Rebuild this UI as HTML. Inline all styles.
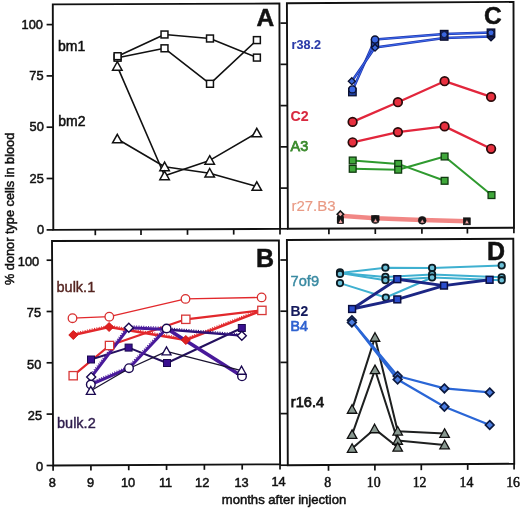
<!DOCTYPE html>
<html><head><meta charset="utf-8"><style>
html,body{margin:0;padding:0;background:#fff;}
body{width:520px;height:509px;overflow:hidden;}
svg{display:block;filter:blur(0.3px);}
</style></head><body>
<svg width="520" height="509" viewBox="0 0 520 509">
<rect width="520" height="509" fill="#fff"/>
<polygon points="52.8,4.4 279.4,3.5 280.1,228.9 53.3,229.9" fill="none" stroke="#111" stroke-width="1.9" stroke-linejoin="miter"/>
<polygon points="52.0,241.0 278.9,240.4 280.1,464.2 53.2,465.5" fill="none" stroke="#111" stroke-width="1.9" stroke-linejoin="miter"/>
<polygon points="286.9,3.2 513.5,1.9 514.0,227.7 287.9,228.8" fill="none" stroke="#111" stroke-width="1.9" stroke-linejoin="miter"/>
<polygon points="286.9,240.0 513.3,238.7 514.2,463.8 287.8,465.2" fill="none" stroke="#111" stroke-width="1.9" stroke-linejoin="miter"/>
<line x1="46.6" y1="24.6" x2="52.84478935698448" y2="24.6" stroke="#111" stroke-width="1.7"/>
<line x1="46.6" y1="75.9" x2="52.95853658536585" y2="75.9" stroke="#111" stroke-width="1.7"/>
<line x1="46.6" y1="127.19999999999999" x2="53.07228381374723" y2="127.19999999999999" stroke="#111" stroke-width="1.7"/>
<line x1="46.6" y1="178.49999999999997" x2="53.1860310421286" y2="178.49999999999997" stroke="#111" stroke-width="1.7"/>
<line x1="46.6" y1="229.9" x2="53.3" y2="229.9" stroke="#111" stroke-width="1.7"/>
<text x="42.949999999999996" y="28.6" font-family='"Liberation Sans", sans-serif' font-size="12.8" fill="#111" stroke="#111" stroke-width="0.5" text-anchor="end" font-weight="normal" >100</text>
<text x="43.55" y="80.1" font-family='"Liberation Sans", sans-serif' font-size="12.8" fill="#111" stroke="#111" stroke-width="0.5" text-anchor="end" font-weight="normal" >75</text>
<text x="43.75" y="130.6" font-family='"Liberation Sans", sans-serif' font-size="12.8" fill="#111" stroke="#111" stroke-width="0.5" text-anchor="end" font-weight="normal" >50</text>
<text x="43.75" y="183.1" font-family='"Liberation Sans", sans-serif' font-size="12.8" fill="#111" stroke="#111" stroke-width="0.5" text-anchor="end" font-weight="normal" >25</text>
<text x="44.15" y="233.7" font-family='"Liberation Sans", sans-serif' font-size="12.8" fill="#111" stroke="#111" stroke-width="0.5" text-anchor="end" font-weight="normal" >0</text>
<line x1="95.3" y1="229.71481481481482" x2="95.3" y2="235.21481481481482" stroke="#111" stroke-width="1.7"/>
<line x1="141.0" y1="229.51331569664904" x2="141.0" y2="235.01331569664904" stroke="#111" stroke-width="1.7"/>
<line x1="187.5" y1="229.3082892416226" x2="187.5" y2="234.8082892416226" stroke="#111" stroke-width="1.7"/>
<line x1="233.7" y1="229.10458553791887" x2="233.7" y2="234.60458553791887" stroke="#111" stroke-width="1.7"/>
<line x1="280.0" y1="228.9004409171076" x2="280.0" y2="234.4004409171076" stroke="#111" stroke-width="1.7"/>
<line x1="46.6" y1="260.2" x2="52.1026280623608" y2="260.2" stroke="#111" stroke-width="1.7"/>
<line x1="46.6" y1="311.5" x2="52.37683741648107" y2="311.5" stroke="#111" stroke-width="1.7"/>
<line x1="46.6" y1="362.79999999999995" x2="52.65104677060134" y2="362.79999999999995" stroke="#111" stroke-width="1.7"/>
<line x1="46.6" y1="414.09999999999997" x2="52.92525612472161" y2="414.09999999999997" stroke="#111" stroke-width="1.7"/>
<line x1="46.6" y1="465.5" x2="53.2" y2="465.5" stroke="#111" stroke-width="1.7"/>
<text x="39.15" y="266.0" font-family='"Liberation Sans", sans-serif' font-size="12.8" fill="#111" stroke="#111" stroke-width="0.5" text-anchor="end" font-weight="normal" >100</text>
<text x="41.05" y="316.5" font-family='"Liberation Sans", sans-serif' font-size="12.8" fill="#111" stroke="#111" stroke-width="0.5" text-anchor="end" font-weight="normal" >75</text>
<text x="41.349999999999994" y="368.5" font-family='"Liberation Sans", sans-serif' font-size="12.8" fill="#111" stroke="#111" stroke-width="0.5" text-anchor="end" font-weight="normal" >50</text>
<text x="42.05" y="419.5" font-family='"Liberation Sans", sans-serif' font-size="12.8" fill="#111" stroke="#111" stroke-width="0.5" text-anchor="end" font-weight="normal" >25</text>
<text x="43.15" y="471.3" font-family='"Liberation Sans", sans-serif' font-size="12.8" fill="#111" stroke="#111" stroke-width="0.5" text-anchor="end" font-weight="normal" >0</text>
<line x1="53.1" y1="465.50057293962095" x2="53.1" y2="470.70057293962094" stroke="#111" stroke-width="1.7"/>
<line x1="90.92" y1="465.28388717496694" x2="90.92" y2="470.4838871749669" stroke="#111" stroke-width="1.7"/>
<line x1="128.74" y1="465.0672014103129" x2="128.74" y2="470.2672014103129" stroke="#111" stroke-width="1.7"/>
<line x1="166.56" y1="464.8505156456589" x2="166.56" y2="470.0505156456589" stroke="#111" stroke-width="1.7"/>
<line x1="204.38" y1="464.63382988100483" x2="204.38" y2="469.8338298810048" stroke="#111" stroke-width="1.7"/>
<line x1="242.2" y1="464.4171441163508" x2="242.2" y2="469.6171441163508" stroke="#111" stroke-width="1.7"/>
<line x1="280.02000000000004" y1="464.2004583516968" x2="280.02000000000004" y2="469.4004583516968" stroke="#111" stroke-width="1.7"/>
<text x="52.35" y="487.39845132743363" font-family='"Liberation Sans", sans-serif' font-size="12.8" fill="#111" stroke="#111" stroke-width="0.5" text-anchor="middle" font-weight="normal" >8</text>
<text x="90.6" y="487.229203539823" font-family='"Liberation Sans", sans-serif' font-size="12.8" fill="#111" stroke="#111" stroke-width="0.5" text-anchor="middle" font-weight="normal" >9</text>
<text x="128.0" y="487.06371681415925" font-family='"Liberation Sans", sans-serif' font-size="12.8" fill="#111" stroke="#111" stroke-width="0.5" text-anchor="middle" font-weight="normal" >10</text>
<text x="165.6" y="486.89734513274334" font-family='"Liberation Sans", sans-serif' font-size="12.8" fill="#111" stroke="#111" stroke-width="0.5" text-anchor="middle" font-weight="normal" >11</text>
<text x="202.2" y="486.7353982300885" font-family='"Liberation Sans", sans-serif' font-size="12.8" fill="#111" stroke="#111" stroke-width="0.5" text-anchor="middle" font-weight="normal" >12</text>
<text x="241.5" y="486.5615044247787" font-family='"Liberation Sans", sans-serif' font-size="12.8" fill="#111" stroke="#111" stroke-width="0.5" text-anchor="middle" font-weight="normal" >13</text>
<text x="278.6" y="486.39734513274334" font-family='"Liberation Sans", sans-serif' font-size="12.8" fill="#111" stroke="#111" stroke-width="0.5" text-anchor="middle" font-weight="normal" >14</text>
<line x1="280.4" y1="23.1" x2="286.9882092198581" y2="23.1" stroke="#111" stroke-width="1.7"/>
<line x1="280.4" y1="64.35" x2="287.171054964539" y2="64.35" stroke="#111" stroke-width="1.7"/>
<line x1="280.4" y1="105.6" x2="287.35390070921983" y2="105.6" stroke="#111" stroke-width="1.7"/>
<line x1="280.4" y1="146.85" x2="287.53674645390066" y2="146.85" stroke="#111" stroke-width="1.7"/>
<line x1="280.4" y1="188.1" x2="287.71959219858155" y2="188.1" stroke="#111" stroke-width="1.7"/>
<line x1="280.4" y1="228.8" x2="287.9" y2="228.8" stroke="#111" stroke-width="1.7"/>
<line x1="328.9" y1="228.60053073861124" x2="328.9" y2="234.20053073861123" stroke="#111" stroke-width="1.7"/>
<line x1="375.3" y1="228.3747899159664" x2="375.3" y2="233.9747899159664" stroke="#111" stroke-width="1.7"/>
<line x1="421.9" y1="228.14807607253428" x2="421.9" y2="233.74807607253427" stroke="#111" stroke-width="1.7"/>
<line x1="467.4" y1="227.9267138434321" x2="467.4" y2="233.5267138434321" stroke="#111" stroke-width="1.7"/>
<line x1="513.9" y1="227.70048651039363" x2="513.9" y2="233.30048651039363" stroke="#111" stroke-width="1.7"/>
<line x1="280.4" y1="260.0" x2="286.9799289520426" y2="260.0" stroke="#111" stroke-width="1.7"/>
<line x1="280.4" y1="311.2" x2="287.18454706927173" y2="311.2" stroke="#111" stroke-width="1.7"/>
<line x1="280.4" y1="362.4" x2="287.38916518650086" y2="362.4" stroke="#111" stroke-width="1.7"/>
<line x1="280.4" y1="413.6" x2="287.59378330373005" y2="413.6" stroke="#111" stroke-width="1.7"/>
<line x1="280.4" y1="465.2" x2="287.8" y2="465.2" stroke="#111" stroke-width="1.7"/>
<line x1="328.5" y1="464.9483215547703" x2="328.5" y2="470.7483215547703" stroke="#111" stroke-width="1.7"/>
<line x1="374.9" y1="464.6613957597173" x2="374.9" y2="470.46139575971733" stroke="#111" stroke-width="1.7"/>
<line x1="421.3" y1="464.3744699646643" x2="421.3" y2="470.1744699646643" stroke="#111" stroke-width="1.7"/>
<line x1="467.7" y1="464.0875441696113" x2="467.7" y2="469.8875441696113" stroke="#111" stroke-width="1.7"/>
<line x1="514.1" y1="463.8006183745583" x2="514.1" y2="469.60061837455834" stroke="#111" stroke-width="1.7"/>
<text x="327.7" y="486.9" font-family='"Liberation Serif", serif' font-size="13.8" fill="#111" stroke="#111" stroke-width="0.5" text-anchor="middle" font-weight="normal" >8</text>
<text x="373.7" y="486.9" font-family='"Liberation Serif", serif' font-size="13.8" fill="#111" stroke="#111" stroke-width="0.5" text-anchor="middle" font-weight="normal" >10</text>
<text x="419.6" y="486.9" font-family='"Liberation Serif", serif' font-size="13.8" fill="#111" stroke="#111" stroke-width="0.5" text-anchor="middle" font-weight="normal" >12</text>
<text x="466.4" y="486.9" font-family='"Liberation Serif", serif' font-size="13.8" fill="#111" stroke="#111" stroke-width="0.5" text-anchor="middle" font-weight="normal" >14</text>
<text x="513.1" y="486.9" font-family='"Liberation Serif", serif' font-size="13.8" fill="#111" stroke="#111" stroke-width="0.5" text-anchor="middle" font-weight="normal" >16</text>
<text x="256.5" y="25.8" font-family='"Liberation Sans", sans-serif' font-size="24.5" fill="#111" stroke="#111" stroke-width="0.5" text-anchor="start" font-weight="bold" >A</text>
<text x="484.0" y="24.0" font-family='"Liberation Sans", sans-serif' font-size="24.5" fill="#111" stroke="#111" stroke-width="0.5" text-anchor="start" font-weight="bold" >C</text>
<text x="256.0" y="266.5" font-family='"Liberation Sans", sans-serif' font-size="25" fill="#111" stroke="#111" stroke-width="0.5" text-anchor="start" font-weight="bold" >B</text>
<text x="487.0" y="260.0" font-family='"Liberation Sans", sans-serif' font-size="25" fill="#111" stroke="#111" stroke-width="0.5" text-anchor="start" font-weight="bold" >D</text>
<text x="284" y="503.5" font-family='"Liberation Sans", sans-serif' font-size="13.1" fill="#111" stroke="#111" stroke-width="0.5" text-anchor="middle" font-weight="normal" >months after injection</text>
<text x="0" y="0" font-family='"Liberation Sans", sans-serif' font-size="12.75" fill="#111" stroke="#111" stroke-width="0.5" text-anchor="middle" font-weight="normal" transform="translate(13.5,208.9) rotate(-90)">% donor type cells in blood</text>
<polyline points="117.6,56.2 164.5,34.5 210,38.5 256.9,57.6" fill="none" stroke="#111" stroke-width="1.6" stroke-linejoin="round" />
<polyline points="117.6,57.7 164.5,48.3 210,83.8 256.9,40.1" fill="none" stroke="#111" stroke-width="1.6" stroke-linejoin="round" />
<polyline points="117.3,66.4 164.6,175.8 209.7,160.4 256.8,133" fill="none" stroke="#111" stroke-width="1.6" stroke-linejoin="round" />
<polyline points="117.3,139 164.6,166.8 209.7,173.2 256.8,186.5" fill="none" stroke="#111" stroke-width="1.6" stroke-linejoin="round" />
<rect x="114.15" y="54.25" width="6.9" height="6.9" fill="#fff" stroke="#111" stroke-width="1.5"/>
<rect x="114.15" y="52.75" width="6.9" height="6.9" fill="#fff" stroke="#111" stroke-width="1.5"/>
<rect x="161.05" y="31.05" width="6.9" height="6.9" fill="#fff" stroke="#111" stroke-width="1.5"/>
<rect x="161.05" y="44.85" width="6.9" height="6.9" fill="#fff" stroke="#111" stroke-width="1.5"/>
<rect x="206.55" y="35.05" width="6.9" height="6.9" fill="#fff" stroke="#111" stroke-width="1.5"/>
<rect x="206.55" y="80.35" width="6.9" height="6.9" fill="#fff" stroke="#111" stroke-width="1.5"/>
<rect x="253.45" y="36.65" width="6.9" height="6.9" fill="#fff" stroke="#111" stroke-width="1.5"/>
<rect x="253.45" y="54.15" width="6.9" height="6.9" fill="#fff" stroke="#111" stroke-width="1.5"/>
<polygon points="117.30,61.70 122.05,70.25 112.55,70.25" fill="#fff" stroke="#111" stroke-width="1.5" stroke-linejoin="miter"/>
<polygon points="117.30,134.30 122.05,142.85 112.55,142.85" fill="#fff" stroke="#111" stroke-width="1.5" stroke-linejoin="miter"/>
<polygon points="164.60,162.10 169.35,170.65 159.85,170.65" fill="#fff" stroke="#111" stroke-width="1.5" stroke-linejoin="miter"/>
<polygon points="164.60,171.10 169.35,179.65 159.85,179.65" fill="#fff" stroke="#111" stroke-width="1.5" stroke-linejoin="miter"/>
<polygon points="209.70,155.70 214.45,164.25 204.95,164.25" fill="#fff" stroke="#111" stroke-width="1.5" stroke-linejoin="miter"/>
<polygon points="209.70,168.50 214.45,177.05 204.95,177.05" fill="#fff" stroke="#111" stroke-width="1.5" stroke-linejoin="miter"/>
<polygon points="256.80,128.30 261.55,136.85 252.05,136.85" fill="#fff" stroke="#111" stroke-width="1.5" stroke-linejoin="miter"/>
<polygon points="256.80,181.80 261.55,190.35 252.05,190.35" fill="#fff" stroke="#111" stroke-width="1.5" stroke-linejoin="miter"/>
<text x="58.0" y="50.8" font-family='"Liberation Sans", sans-serif' font-size="14" fill="#111" stroke="#111" stroke-width="0.5" text-anchor="start" font-weight="normal" >bm1</text>
<text x="58.3" y="126.3" font-family='"Liberation Sans", sans-serif' font-size="14" fill="#111" stroke="#111" stroke-width="0.5" text-anchor="start" font-weight="normal" >bm2</text>
<polyline points="340.4,215.8 375.3,218.3 422.4,220.0 467,221.3" fill="none" stroke="#f07a78" stroke-width="4.6" stroke-linejoin="round" stroke-opacity="0.9"/>
<rect x="336.9" y="215.5" width="7" height="8.6" rx="1.5" fill="#151515"/>
<polygon points="340.4,211.0 343.59999999999997,214.2 340.4,217.39999999999998 337.2,214.2" fill="#f4b0b0" stroke="#151515" stroke-width="1.6"/>
<polygon points="340.60,218.73 343.20,223.41 338.00,223.41" fill="#f4a8a8" stroke="#151515" stroke-width="0.8" stroke-linejoin="miter"/>
<circle cx="375.3" cy="219.6" r="4.0" fill="#151515" stroke="#151515" stroke-width="0.6"/>
<rect x="371.2" y="215.2" width="8.2" height="3" fill="#151515"/>
<polygon points="375.50,218.32 377.80,222.46 373.20,222.46" fill="#f4a8a8" stroke="#151515" stroke-width="0.6" stroke-linejoin="miter"/>
<circle cx="422.2" cy="220.3" r="3.9" fill="#151515" stroke="#151515" stroke-width="0.6"/>
<polygon points="422.30,218.92 424.60,223.06 420.00,223.06" fill="#f4a8a8" stroke="#151515" stroke-width="0.6" stroke-linejoin="miter"/>
<rect x="463.30" y="217.80" width="7.0" height="7.0" fill="#151515" stroke="#151515" stroke-width="0.6"/>
<polygon points="466.90,219.52 469.20,223.66 464.60,223.66" fill="#f4a8a8" stroke="#151515" stroke-width="0.6" stroke-linejoin="miter"/>
<text x="291.4" y="211.0" font-family='"Liberation Sans", sans-serif' font-size="15" fill="#e99a84" stroke="#e99a84" stroke-width="0.15" text-anchor="start" font-weight="normal" >r27.B3</text>
<polyline points="352.7,160.5 398.2,163.9 444.6,180.8" fill="none" stroke="#2f9a2f" stroke-width="2.0" stroke-linejoin="round" />
<polyline points="352.7,168.8 398.2,169.7 444.6,156.5 491.5,195.1" fill="none" stroke="#2f9a2f" stroke-width="2.0" stroke-linejoin="round" />
<rect x="349.30" y="157.10" width="6.8" height="6.8" fill="#3fa83a" stroke="#103a10" stroke-width="1.3"/>
<rect x="349.30" y="165.40" width="6.8" height="6.8" fill="#3fa83a" stroke="#103a10" stroke-width="1.3"/>
<rect x="394.80" y="160.50" width="6.8" height="6.8" fill="#3fa83a" stroke="#103a10" stroke-width="1.3"/>
<rect x="394.80" y="166.30" width="6.8" height="6.8" fill="#3fa83a" stroke="#103a10" stroke-width="1.3"/>
<rect x="441.20" y="153.10" width="6.8" height="6.8" fill="#3fa83a" stroke="#103a10" stroke-width="1.3"/>
<rect x="441.20" y="177.40" width="6.8" height="6.8" fill="#3fa83a" stroke="#103a10" stroke-width="1.3"/>
<rect x="488.10" y="191.70" width="6.8" height="6.8" fill="#3fa83a" stroke="#103a10" stroke-width="1.3"/>
<text x="290.6" y="150.6" font-family='"Liberation Sans", sans-serif' font-size="14.4" fill="#3a8a2c" stroke="#3a8a2c" stroke-width="0.75" text-anchor="start" font-weight="normal" >A3</text>
<polyline points="352.6,121.9 397.9,102.2 444.6,81.2 491.1,96.9" fill="none" stroke="#e2263c" stroke-width="2.3" stroke-linejoin="round" />
<polyline points="352.6,142.3 397.9,132.1 444.6,126.4 491.1,148.8" fill="none" stroke="#e2263c" stroke-width="2.3" stroke-linejoin="round" />
<circle cx="352.6" cy="121.9" r="4.3" fill="#e8303f" stroke="#2a0a0a" stroke-width="1.7"/>
<circle cx="397.9" cy="102.2" r="4.3" fill="#e8303f" stroke="#2a0a0a" stroke-width="1.7"/>
<circle cx="444.6" cy="81.2" r="4.3" fill="#e8303f" stroke="#2a0a0a" stroke-width="1.7"/>
<circle cx="491.1" cy="96.9" r="4.3" fill="#e8303f" stroke="#2a0a0a" stroke-width="1.7"/>
<circle cx="352.6" cy="142.3" r="4.3" fill="#e8303f" stroke="#2a0a0a" stroke-width="1.7"/>
<circle cx="397.9" cy="132.1" r="4.3" fill="#e8303f" stroke="#2a0a0a" stroke-width="1.7"/>
<circle cx="444.6" cy="126.4" r="4.3" fill="#e8303f" stroke="#2a0a0a" stroke-width="1.7"/>
<circle cx="491.1" cy="148.8" r="4.3" fill="#e8303f" stroke="#2a0a0a" stroke-width="1.7"/>
<text x="290.6" y="120.6" font-family='"Liberation Sans", sans-serif' font-size="14.2" fill="#d82a40" stroke="#d82a40" stroke-width="0.1" text-anchor="start" font-weight="bold" >C2</text>
<polyline points="352.4,90.5 375,39.6 444.2,34.0 491,32.4" fill="none" stroke="#2238b0" stroke-width="2.5" stroke-linejoin="round" />
<polyline points="352.4,90.5 375,39.6 444.2,34.0 491,32.4" fill="none" stroke="#3c6cf0" stroke-width="1.0" stroke-linejoin="round" />
<polyline points="351.8,81.2 375,47.5 444.2,38.0 491,36.6" fill="none" stroke="#2238b0" stroke-width="2.5" stroke-linejoin="round" />
<polyline points="351.8,81.2 375,47.5 444.2,38.0 491,36.6" fill="none" stroke="#3c6cf0" stroke-width="1.0" stroke-linejoin="round" />
<rect x="348.65" y="88.25" width="7.5" height="7.5" fill="#2040a0" stroke="#0a1030" stroke-width="1.3"/>
<polygon points="351.8,77.7 355.3,81.2 351.8,84.7 348.3,81.2" fill="#3a66d8" stroke="#0a1030" stroke-width="1.3"/>
<circle cx="352.4" cy="89.4" r="3.5" fill="#3a66e0" stroke="#0a1030" stroke-width="1.2"/>
<rect x="371.40" y="39.40" width="7.2" height="7.2" fill="#2040a0" stroke="#0a1030" stroke-width="1.3"/>
<polygon points="375,44.2 378.5,47.7 375,51.2 371.5,47.7" fill="#3a66d8" stroke="#0a1030" stroke-width="1.3"/>
<circle cx="375" cy="39.6" r="3.6" fill="#3a66e0" stroke="#0a1030" stroke-width="1.3"/>
<rect x="440.4" y="30.4" width="7.6" height="9.8" fill="#16205a" stroke="#0a1030" stroke-width="1.2"/>
<circle cx="444.2" cy="34.6" r="2.9" fill="#3a66e0" stroke="#0a1030" stroke-width="0.8"/>
<polygon points="491,33.9 494.5,37.4 491,40.9 487.5,37.4" fill="#16205a" stroke="#0a1030" stroke-width="1.3"/>
<rect x="487.25" y="29.05" width="7.5" height="7.5" fill="#16205a" stroke="#0a1030" stroke-width="1.3"/>
<circle cx="491" cy="32.8" r="2.9" fill="#3a66e0" stroke="#0a1030" stroke-width="0.8"/>
<text x="291.6" y="49.0" font-family='"Liberation Sans", sans-serif' font-size="12.6" fill="#2a3aa8" stroke="#2a3aa8" stroke-width="0.1" text-anchor="start" font-weight="bold" >r38.2</text>
<polyline points="72.5,318.2 109.3,316.7 185.5,298.9 261.6,297.4" fill="none" stroke="#e2282c" stroke-width="1.3" stroke-linejoin="round" />
<polyline points="73.3,335.0 109.1,327.0 185.8,340.0 258.0,312.0" fill="none" stroke="#e2282c" stroke-width="2.6" stroke-linejoin="round" />
<line x1="72.93" y1="333.34" x2="108.73" y2="325.34" stroke="#e2282c" stroke-width="1.2" stroke-dasharray="1 1.4"/>
<line x1="109.38" y1="325.32" x2="186.08" y2="338.32" stroke="#e2282c" stroke-width="1.2" stroke-dasharray="1 1.4"/>
<line x1="185.19" y1="338.42" x2="257.39" y2="310.42" stroke="#e2282c" stroke-width="1.2" stroke-dasharray="1 1.4"/>
<polyline points="73.2,375.7 109.5,345.5 185.8,319.3 261.9,310.4" fill="none" stroke="#e2282c" stroke-width="2.2" stroke-linejoin="round" />
<polyline points="91.0,359.5 128.6,347.6 167.0,363.0 241.8,328.0" fill="none" stroke="#24105e" stroke-width="2.0" stroke-linejoin="round" />
<polyline points="91.2,377.1 128.8,327.7 166.8,329.5" fill="none" stroke="#48199a" stroke-width="3.0" stroke-linejoin="round" />
<line x1="89.65" y1="375.92" x2="127.25" y2="326.52" stroke="#48199a" stroke-width="1.3" stroke-dasharray="1 1.4"/>
<line x1="128.89" y1="325.75" x2="166.89" y2="327.55" stroke="#48199a" stroke-width="1.3" stroke-dasharray="1 1.4"/>
<polyline points="166.8,329.5 241.8,335.7" fill="none" stroke="#2e1278" stroke-width="2.3" stroke-linejoin="round" />
<line x1="166.93" y1="327.91" x2="241.93" y2="334.11" stroke="#2e1278" stroke-width="1.3" stroke-dasharray="1 1.4"/>
<polyline points="90.8,384.5 129.0,368.2 166.6,328.5" fill="none" stroke="#48199a" stroke-width="3.0" stroke-linejoin="round" />
<line x1="90.03" y1="382.71" x2="128.23" y2="366.41" stroke="#48199a" stroke-width="1.3" stroke-dasharray="1 1.4"/>
<line x1="127.58" y1="366.86" x2="165.18" y2="327.16" stroke="#48199a" stroke-width="1.3" stroke-dasharray="1 1.4"/>
<polyline points="166.6,328.5 242.0,376.3" fill="none" stroke="#48199a" stroke-width="3.7" stroke-linejoin="round" />
<polyline points="90.8,390.8 129.0,368.5 166.5,351.3 241.5,370.6" fill="none" stroke="#1a1430" stroke-width="1.3" stroke-linejoin="round" />
<circle cx="72.5" cy="318.2" r="4.3" fill="#fff" stroke="#d83030" stroke-width="1.3"/>
<circle cx="109.3" cy="316.7" r="4.3" fill="#fff" stroke="#d83030" stroke-width="1.3"/>
<circle cx="185.5" cy="298.9" r="4.3" fill="#fff" stroke="#d83030" stroke-width="1.3"/>
<circle cx="261.6" cy="297.4" r="4.3" fill="#fff" stroke="#d83030" stroke-width="1.3"/>
<polygon points="73.3,330.5 77.8,335.0 73.3,339.5 68.8,335.0" fill="#e02020" stroke="#d01818" stroke-width="1.0"/>
<polygon points="109.1,322.5 113.6,327.0 109.1,331.5 104.6,327.0" fill="#e02020" stroke="#d01818" stroke-width="1.0"/>
<polygon points="185.8,335.5 190.3,340.0 185.8,344.5 181.3,340.0" fill="#e02020" stroke="#d01818" stroke-width="1.0"/>
<rect x="69.05" y="371.55" width="8.3" height="8.3" fill="#fff" stroke="#d83838" stroke-width="1.3"/>
<rect x="105.35" y="341.35" width="8.3" height="8.3" fill="#fff" stroke="#d83838" stroke-width="1.3"/>
<rect x="181.65" y="315.15" width="8.3" height="8.3" fill="#fff" stroke="#d83838" stroke-width="1.3"/>
<rect x="257.75" y="306.25" width="8.3" height="8.3" fill="#fff" stroke="#d83838" stroke-width="1.3"/>
<rect x="87.50" y="356.00" width="7.0" height="7.0" fill="#3a1090" stroke="#1a0850" stroke-width="1.0"/>
<rect x="125.10" y="344.10" width="7.0" height="7.0" fill="#3a1090" stroke="#1a0850" stroke-width="1.0"/>
<rect x="163.50" y="359.50" width="7.0" height="7.0" fill="#3a1090" stroke="#1a0850" stroke-width="1.0"/>
<rect x="238.30" y="324.50" width="7.0" height="7.0" fill="#3a1090" stroke="#1a0850" stroke-width="1.0"/>
<polygon points="91.2,372.6 95.7,377.1 91.2,381.6 86.7,377.1" fill="#fff" stroke="#1a0850" stroke-width="1.4"/>
<polygon points="128.8,323.2 133.3,327.7 128.8,332.2 124.30000000000001,327.7" fill="#fff" stroke="#1a0850" stroke-width="1.4"/>
<polygon points="241.8,331.2 246.3,335.7 241.8,340.2 237.3,335.7" fill="#fff" stroke="#1a0850" stroke-width="1.4"/>
<circle cx="90.8" cy="384.5" r="4.3" fill="#fff" stroke="#1a0850" stroke-width="1.4"/>
<circle cx="129.0" cy="368.2" r="4.3" fill="#fff" stroke="#1a0850" stroke-width="1.4"/>
<circle cx="166.6" cy="328.5" r="4.3" fill="#fff" stroke="#1a0850" stroke-width="1.4"/>
<circle cx="242.0" cy="376.3" r="4.3" fill="#fff" stroke="#1a0850" stroke-width="1.4"/>
<polygon points="90.80,386.35 95.30,394.44 86.30,394.44" fill="#fff" stroke="#1a0850" stroke-width="1.3" stroke-linejoin="miter"/>
<polygon points="166.50,346.85 171.00,354.94 162.00,354.94" fill="#fff" stroke="#1a0850" stroke-width="1.3" stroke-linejoin="miter"/>
<polygon points="241.50,366.15 246.00,374.25 237.00,374.25" fill="#fff" stroke="#1a0850" stroke-width="1.3" stroke-linejoin="miter"/>
<text x="56.5" y="291.9" font-family='"Liberation Sans", sans-serif' font-size="14.5" fill="#552420" stroke="#552420" stroke-width="0.4" text-anchor="start" font-weight="normal" >bulk.1</text>
<text x="57.0" y="427.7" font-family='"Liberation Sans", sans-serif' font-size="14.5" fill="#2e1c4c" stroke="#2e1c4c" stroke-width="0.4" text-anchor="start" font-weight="normal" >bulk.2</text>
<polyline points="352.1,409.4 375.0,337.4 397.7,431.2 444.6,433.5" fill="none" stroke="#1e2020" stroke-width="2.0" stroke-linejoin="round" />
<polyline points="352.1,434.6 375.0,369.8 397.7,440.4 444.6,445.0" fill="none" stroke="#1e2020" stroke-width="2.0" stroke-linejoin="round" />
<polyline points="352.1,448.5 374.6,428.9 397.7,447.3" fill="none" stroke="#1e2020" stroke-width="2.0" stroke-linejoin="round" />
<polygon points="375.00,332.70 379.75,341.25 370.25,341.25" fill="#889890" stroke="#101010" stroke-width="1.3" stroke-linejoin="miter"/>
<polygon points="375.00,365.10 379.75,373.65 370.25,373.65" fill="#889890" stroke="#101010" stroke-width="1.3" stroke-linejoin="miter"/>
<polygon points="352.10,404.70 356.85,413.25 347.35,413.25" fill="#889890" stroke="#101010" stroke-width="1.3" stroke-linejoin="miter"/>
<polygon points="352.10,429.90 356.85,438.45 347.35,438.45" fill="#889890" stroke="#101010" stroke-width="1.3" stroke-linejoin="miter"/>
<polygon points="352.10,443.80 356.85,452.35 347.35,452.35" fill="#889890" stroke="#101010" stroke-width="1.3" stroke-linejoin="miter"/>
<polygon points="374.60,424.20 379.35,432.75 369.85,432.75" fill="#889890" stroke="#101010" stroke-width="1.3" stroke-linejoin="miter"/>
<polygon points="397.70,426.50 402.45,435.05 392.95,435.05" fill="#889890" stroke="#101010" stroke-width="1.3" stroke-linejoin="miter"/>
<polygon points="397.70,435.70 402.45,444.25 392.95,444.25" fill="#889890" stroke="#101010" stroke-width="1.3" stroke-linejoin="miter"/>
<polygon points="397.70,442.60 402.45,451.15 392.95,451.15" fill="#889890" stroke="#101010" stroke-width="1.3" stroke-linejoin="miter"/>
<polygon points="444.60,428.80 449.35,437.35 439.85,437.35" fill="#889890" stroke="#101010" stroke-width="1.3" stroke-linejoin="miter"/>
<polygon points="444.60,440.30 449.35,448.85 439.85,448.85" fill="#889890" stroke="#101010" stroke-width="1.3" stroke-linejoin="miter"/>
<text x="290.8" y="406.9" font-family='"Liberation Sans", sans-serif' font-size="14.6" fill="#151515" stroke="#151515" stroke-width="0.75" text-anchor="start" font-weight="normal" >r16.4</text>
<polyline points="351.9,321.2 397.6,376.0 444.4,388.4 489.7,392.4" fill="none" stroke="#2a66d6" stroke-width="2.3" stroke-linejoin="round" />
<polyline points="351.9,321.2 397.6,379.6 444.4,406.7 489.7,425.0" fill="none" stroke="#2a66d6" stroke-width="2.3" stroke-linejoin="round" />
<polygon points="351.9,315.9 356.2,320.2 351.9,324.5 347.59999999999997,320.2" fill="#4a7ce0" stroke="#0c1a40" stroke-width="1.7"/>
<polygon points="351.9,318.09999999999997 356.2,322.4 351.9,326.7 347.59999999999997,322.4" fill="#4a7ce0" stroke="#0c1a40" stroke-width="1.7"/>
<polygon points="397.6,371.7 401.90000000000003,376.0 397.6,380.3 393.3,376.0" fill="#4a7ce0" stroke="#0c1a40" stroke-width="1.7"/>
<polygon points="397.6,375.3 401.90000000000003,379.6 397.6,383.90000000000003 393.3,379.6" fill="#4a7ce0" stroke="#0c1a40" stroke-width="1.7"/>
<polygon points="444.4,384.09999999999997 448.7,388.4 444.4,392.7 440.09999999999997,388.4" fill="#4a7ce0" stroke="#0c1a40" stroke-width="1.7"/>
<polygon points="444.4,402.4 448.7,406.7 444.4,411.0 440.09999999999997,406.7" fill="#4a7ce0" stroke="#0c1a40" stroke-width="1.7"/>
<polygon points="489.7,388.09999999999997 494.0,392.4 489.7,396.7 485.4,392.4" fill="#4a7ce0" stroke="#0c1a40" stroke-width="1.7"/>
<polygon points="489.7,420.7 494.0,425.0 489.7,429.3 485.4,425.0" fill="#4a7ce0" stroke="#0c1a40" stroke-width="1.7"/>
<polyline points="340,273.1 385.4,267.7 432.1,267.9 501.7,265.4" fill="none" stroke="#3fb0d0" stroke-width="2.0" stroke-linejoin="round" />
<polyline points="340,273.1 385.4,276.9 432.1,274.4 501.7,277.3" fill="none" stroke="#3fb0d0" stroke-width="2.0" stroke-linejoin="round" />
<polyline points="340,273.1 385.4,280.2 432.1,277.5 501.7,280.2" fill="none" stroke="#3fb0d0" stroke-width="2.0" stroke-linejoin="round" />
<polyline points="340,283.1 385.8,297.5 432.1,277.5" fill="none" stroke="#3fb0d0" stroke-width="2.0" stroke-linejoin="round" />
<circle cx="340" cy="272.3" r="3.2" fill="#6cc0d8" stroke="#0c1c24" stroke-width="1.8"/>
<circle cx="340" cy="274.0" r="3.2" fill="#6cc0d8" stroke="#0c1c24" stroke-width="1.8"/>
<circle cx="340" cy="283.1" r="3.2" fill="#6cc0d8" stroke="#0c1c24" stroke-width="1.8"/>
<circle cx="385.4" cy="267.7" r="3.2" fill="#6cc0d8" stroke="#0c1c24" stroke-width="1.8"/>
<circle cx="385.4" cy="276.9" r="3.2" fill="#6cc0d8" stroke="#0c1c24" stroke-width="1.8"/>
<circle cx="385.4" cy="280.2" r="3.2" fill="#6cc0d8" stroke="#0c1c24" stroke-width="1.8"/>
<circle cx="385.8" cy="297.5" r="3.2" fill="#6cc0d8" stroke="#0c1c24" stroke-width="1.8"/>
<circle cx="432.1" cy="267.9" r="3.2" fill="#6cc0d8" stroke="#0c1c24" stroke-width="1.8"/>
<circle cx="432.1" cy="274.4" r="3.2" fill="#6cc0d8" stroke="#0c1c24" stroke-width="1.8"/>
<circle cx="432.1" cy="277.5" r="3.2" fill="#6cc0d8" stroke="#0c1c24" stroke-width="1.8"/>
<circle cx="501.7" cy="265.4" r="3.2" fill="#6cc0d8" stroke="#0c1c24" stroke-width="1.8"/>
<circle cx="501.7" cy="277.3" r="3.2" fill="#6cc0d8" stroke="#0c1c24" stroke-width="1.8"/>
<circle cx="501.7" cy="280.2" r="3.2" fill="#6cc0d8" stroke="#0c1c24" stroke-width="1.8"/>
<polyline points="352.1,309.0 397.3,279.2 444.0,285.6 489.6,279.8" fill="none" stroke="#1c2684" stroke-width="2.9" stroke-linejoin="round" />
<polyline points="352.1,309.0 397.3,299.4 444.0,285.6" fill="none" stroke="#1c2684" stroke-width="2.9" stroke-linejoin="round" />
<rect x="348.70" y="305.60" width="6.8" height="6.8" fill="#2a4ccc" stroke="#0a0e40" stroke-width="1.5"/>
<rect x="393.90" y="275.80" width="6.8" height="6.8" fill="#2a4ccc" stroke="#0a0e40" stroke-width="1.5"/>
<rect x="393.90" y="296.00" width="6.8" height="6.8" fill="#2a4ccc" stroke="#0a0e40" stroke-width="1.5"/>
<rect x="440.60" y="282.20" width="6.8" height="6.8" fill="#2a4ccc" stroke="#0a0e40" stroke-width="1.5"/>
<rect x="486.20" y="276.40" width="6.8" height="6.8" fill="#2a4ccc" stroke="#0a0e40" stroke-width="1.5"/>
<text x="290.6" y="285.6" font-family='"Liberation Sans", sans-serif' font-size="14.6" fill="#3a8aa2" stroke="#3a8aa2" stroke-width="0.45" text-anchor="start" font-weight="normal" >7of9</text>
<text x="290.4" y="315.7" font-family='"Liberation Sans", sans-serif' font-size="13.9" fill="#141a5c" stroke="#141a5c" stroke-width="0.1" text-anchor="start" font-weight="bold" >B2</text>
<text x="290.6" y="330.6" font-family='"Liberation Sans", sans-serif' font-size="14.2" fill="#2f62d0" stroke="#2f62d0" stroke-width="0.7" text-anchor="start" font-weight="normal" >B4</text>
</svg>
</body></html>
